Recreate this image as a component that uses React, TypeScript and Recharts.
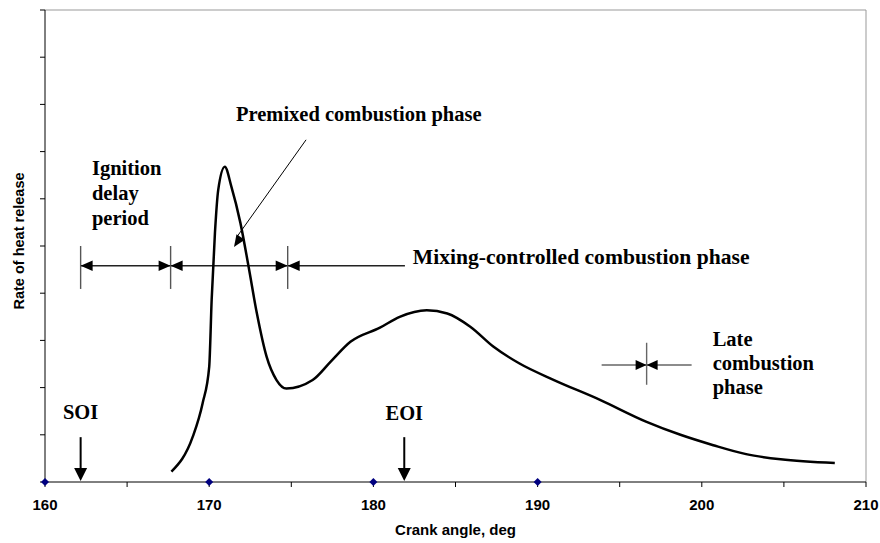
import { ComposedChart, Line, Scatter, XAxis, YAxis, ReferenceLine, ReferenceDot, Label } from "recharts";

// rate of heat release curve (arbitrary units)
const crankAngle = [167.7, 169.0, 169.6, 170.0, 170.15, 170.35, 170.55, 170.95, 171.35, 171.9, 172.4, 172.9, 173.5, 174.1, 174.7, 176.3, 177.4, 178.6, 180.4, 181.6, 183.25, 184.5, 185.9, 187.3, 188.9, 191.0, 193.8, 196.6, 198.7, 200.7, 202.7, 204.8, 208.1];
const heatRelease = [0.22, 0.96, 1.67, 2.44, 3.86, 5.28, 6.19, 6.68, 6.26, 5.49, 4.56, 3.58, 2.65, 2.16, 1.98, 2.16, 2.55, 2.97, 3.27, 3.5, 3.64, 3.57, 3.29, 2.87, 2.51, 2.16, 1.74, 1.28, 1.0, 0.78, 0.59, 0.48, 0.4];

// blue diamonds sitting on the axis
const markerAngles = [160, 170, 180, 190];

const xTicks = [160, 165, 170, 175, 180, 185, 190, 195, 200, 205, 210];
const yTicks = [0, 1, 2, 3, 4, 5, 6, 7, 8, 9, 10];

// phase boundaries (deg)
const soi = 162.17;
const ignitionEnd = 167.65;
const premixedEnd = 174.78;
const mixingLineEnd = 181.92;
const eoi = 181.88;
const lateMark = 196.64;

const curve = crankAngle.map((x, i) => ({ x, y: heatRelease[i] }));
const markers = markerAngles.map((x) => ({ x, y: 0 }));

const SERIF = "'Times New Roman', 'Liberation Serif', serif";
const SANS = "Arial, 'Liberation Sans', sans-serif";

const textShape = (lines: string[], anchor: "start" | "middle" = "start", lh = 25, size = 20.5) => (p: any) => (
  <text x={p.cx} y={p.cy} fontFamily={SERIF} fontWeight="bold" fontSize={size} fill="#000" textAnchor={anchor}>
    {lines.map((t, i) => (
      <tspan key={i} x={p.cx} dy={i === 0 ? 0 : lh}>
        {t}
      </tspan>
    ))}
  </text>
);

// arrowhead with its tip at the point, pointing at angle deg (screen coords)
const arrowShape = (deg: number, len = 12, half = 5.3, color = "#000") => (p: any) => (
  <polygon
    points={`0,0 ${-len},${-half} ${-len},${half}`}
    fill={color}
    transform={`translate(${p.cx},${p.cy}) rotate(${deg})`}
  />
);

const diamond = (p: any) => (
  <polygon points={`${p.cx},${p.cy - 4} ${p.cx + 4},${p.cy} ${p.cx},${p.cy + 4} ${p.cx - 4},${p.cy}`} fill="#000080" />
);

const dimY = 4.58;
const barTop = 5.0;
const barBottom = 4.09;
const lateY = 2.48;

export default function App() {
  return (
    <div style={{ position: "absolute", left: 0, top: 0, width: 880, height: 543, background: "#fff" }}>
      <ComposedChart width={880} height={543} margin={{ top: 10, right: 14, bottom: 0, left: 0 }}>
        <XAxis
          type="number"
          dataKey="x"
          domain={[160, 210]}
          ticks={xTicks}
          interval={0}
          tickFormatter={(v: number) => (v % 10 === 0 ? String(v) : "")}
          tickSize={5}
          tickMargin={12}
          height={61}
          stroke="#000"
          tick={{ fill: "#000", fontSize: 15, fontWeight: "bold", fontFamily: SANS }}
        >
          <Label
            content={(props: any) => {
              const vb = props.viewBox || { x: 45, width: 821 };
              return (
                <text x={vb.x + vb.width / 2} y={535} textAnchor="middle" fontFamily={SANS} fontWeight="bold" fontSize={15} fill="#000">
                  Crank angle, deg
                </text>
              );
            }}
          />
        </XAxis>
        <YAxis
          type="number"
          dataKey="y"
          domain={[0, 10]}
          ticks={yTicks}
          interval={0}
          width={45}
          tickSize={5}
          tickFormatter={() => ""}
          stroke="#000"
        >
          <Label
            content={() => (
              <text x={23.5} y={241} transform="rotate(-90, 23.5, 241)" textAnchor="middle" fontFamily={SANS} fontWeight="bold" fontSize={14.5} fill="#000">
                Rate of heat release
              </text>
            )}
          />
        </YAxis>

        {/* plot frame top/right */}
        <ReferenceLine y={10} stroke="#999" strokeWidth={1} />
        <ReferenceLine x={210} stroke="#999" strokeWidth={1} />

        {/* ignition / premixed / mixing dimension line */}
        <ReferenceLine segment={[{ x: soi, y: dimY }, { x: mixingLineEnd, y: dimY }]} stroke="#222" strokeWidth={1.4} />
        <ReferenceLine segment={[{ x: soi, y: barTop }, { x: soi, y: barBottom }]} stroke="#555" strokeWidth={1.4} />
        <ReferenceLine segment={[{ x: ignitionEnd, y: barTop }, { x: ignitionEnd, y: barBottom }]} stroke="#555" strokeWidth={1.4} />
        <ReferenceLine segment={[{ x: premixedEnd, y: barTop }, { x: premixedEnd, y: barBottom }]} stroke="#555" strokeWidth={1.4} />
        <ReferenceDot x={soi} y={dimY} shape={arrowShape(180)} />
        <ReferenceDot x={ignitionEnd} y={dimY} shape={arrowShape(0)} />
        <ReferenceDot x={ignitionEnd} y={dimY} shape={arrowShape(180)} />
        <ReferenceDot x={premixedEnd} y={dimY} shape={arrowShape(0)} />
        <ReferenceDot x={premixedEnd} y={dimY} shape={arrowShape(180)} />

        {/* late combustion marker */}
        <ReferenceLine segment={[{ x: 193.9, y: lateY }, { x: 199.38, y: lateY }]} stroke="#666" strokeWidth={1.4} />
        <ReferenceLine segment={[{ x: lateMark, y: 2.95 }, { x: lateMark, y: 2.06 }]} stroke="#666" strokeWidth={1.4} />
        <ReferenceDot x={lateMark} y={lateY} shape={arrowShape(0, 11, 5)} />
        <ReferenceDot x={lateMark} y={lateY} shape={arrowShape(180, 11, 5)} />

        {/* premixed pointer */}
        <ReferenceLine segment={[{ x: 175.9, y: 7.25 }, { x: 171.7, y: 5.2 }]} stroke="#000" strokeWidth={1} />
        <ReferenceDot x={171.51} y={4.98} shape={arrowShape(123.7, 12, 5)} />

        {/* SOI / EOI arrows */}
        <ReferenceLine segment={[{ x: soi, y: 0.95 }, { x: soi, y: 0.25 }]} stroke="#000" strokeWidth={2} />
        <ReferenceDot x={soi} y={0.02} shape={arrowShape(90, 13, 6.5)} />
        <ReferenceLine segment={[{ x: eoi, y: 0.95 }, { x: eoi, y: 0.25 }]} stroke="#000" strokeWidth={2} />
        <ReferenceDot x={eoi} y={0.02} shape={arrowShape(90, 13, 6.5)} />

        {/* text annotations */}
        <ReferenceDot x={171.63} y={7.65} shape={textShape(["Premixed combustion phase"])} />
        <ReferenceDot x={162.86} y={6.5} shape={textShape(["Ignition", "delay", "period"])} />
        <ReferenceDot x={182.4} y={4.61} shape={textShape(["Mixing-controlled combustion phase"], "start", 25, 21.6)} />
        <ReferenceDot x={200.66} y={2.88} shape={textShape(["Late", "combustion", "phase"], "start", 24)} />
        <ReferenceDot x={soi} y={1.33} shape={textShape(["SOI"], "middle")} />
        <ReferenceDot x={eoi} y={1.31} shape={textShape(["EOI"], "middle")} />

        <Line data={curve} dataKey="y" type="monotone" stroke="#000" strokeWidth={2.5} dot={false} isAnimationActive={false} />
        <Scatter data={markers} dataKey="y" shape={diamond} isAnimationActive={false} />
      </ComposedChart>
    </div>
  );
}
